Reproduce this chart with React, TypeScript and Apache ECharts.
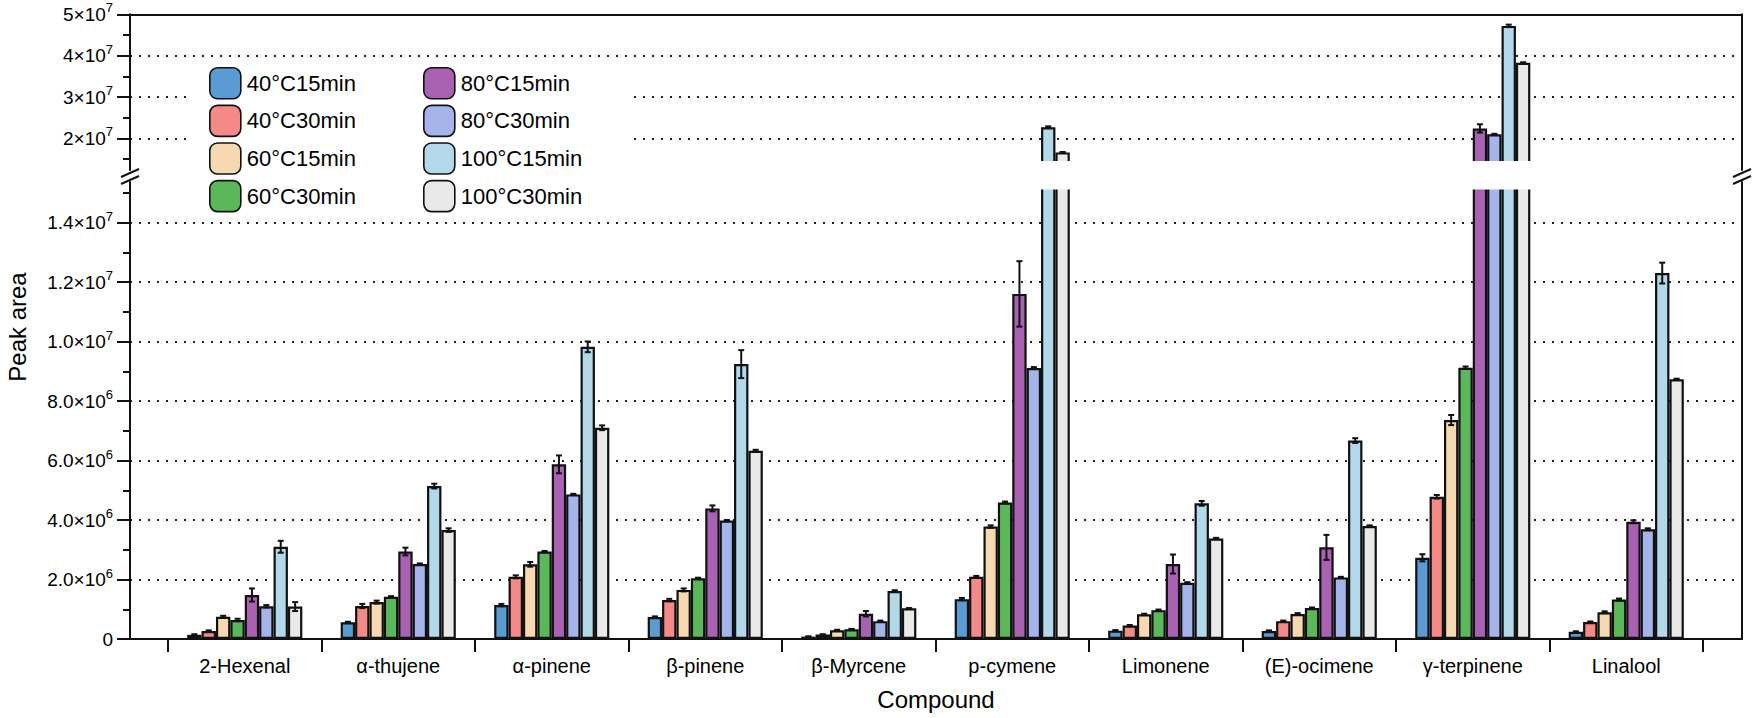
import React, { useEffect, useRef } from 'react';
import * as echarts from 'echarts';

const categories = ['2-Hexenal', 'α-thujene', 'α-pinene', 'β-pinene', 'β-Myrcene', 'p-cymene', 'Limonene', '(E)-ocimene', 'γ-terpinene', 'Linalool'];
const seriesNames = ['40°C15min', '40°C30min', '60°C15min', '60°C30min', '80°C15min', '80°C30min', '100°C15min', '100°C30min'];
const seriesColors = ['#5b9bd3', '#f38a88', '#f6d9b0', '#5bb85a', '#a862b1', '#a5b5ec', '#b2d8ea', '#e9e9e9'];

// peak areas
const v40C15 = [1.4e5, 5.6e5, 1.14e6, 7.4e5, 8e4, 1.34e6, 2.8e5, 2.7e5, 2.73e6, 2.4e5];
const v40C30 = [2.7e5, 1.11e6, 2.09e6, 1.31e6, 1.5e5, 2.09e6, 4.5e5, 6.0e5, 4.78e6, 5.7e5];
const v60C15 = [7.5e5, 1.24e6, 2.51e6, 1.65e6, 2.9e5, 3.78e6, 8.3e5, 8.4e5, 7.36e6, 9.0e5];
const v60C30 = [6.4e5, 1.42e6, 2.94e6, 2.04e6, 3.3e5, 4.59e6, 9.7e5, 1.04e6, 9.12e6, 1.33e6];
const v80C15 = [1.48e6, 2.94e6, 5.87e6, 4.39e6, 8.5e5, 1.16e7, 2.52e6, 3.08e6, 2.24e7, 3.94e6];
const v80C30 = [1.1e6, 2.52e6, 4.86e6, 3.98e6, 6.0e5, 9.11e6, 1.89e6, 2.07e6, 2.1e7, 3.69e6];
const v100C15 = [3.1e6, 5.14e6, 9.82e6, 9.24e6, 1.61e6, 2.27e7, 4.56e6, 6.67e6, 4.72e7, 1.23e7];
const v100C30 = [1.09e6, 3.66e6, 7.1e6, 6.33e6, 1.03e6, 1.66e7, 3.38e6, 3.8e6, 3.83e7, 8.73e6];

// standard deviations
const e40C15 = [2e4, 2e4, 4e4, 2e4, 1e4, 4e4, 2e4, 2e4, 1.2e5, 2e4];
const e40C30 = [2e4, 7e4, 5e4, 4e4, 1e4, 3e4, 2e4, 2e4, 6e4, 2e4];
const e60C15 = [3e4, 5e4, 8e4, 5e4, 2e4, 4e4, 2e4, 3e4, 1.7e5, 3e4];
const e60C30 = [4e4, 2e4, 2e4, 2e4, 1e4, 3e4, 2e4, 2e4, 4e4, 3e4];
const e80C15 = [2.2e5, 1.3e5, 3.0e5, 1.0e5, 9e4, 1.1e6, 3.2e5, 4.2e5, 1.0e6, 5e4];
const e80C30 = [4e4, 2e4, 2e4, 2e4, 2e4, 3e4, 2e4, 2e4, 1e5, 3e4];
const e100C15 = [2.0e5, 8e4, 1.8e5, 4.7e5, 3e4, 2e5, 8e4, 8e4, 3e5, 3.5e5];
const e100C30 = [1.5e5, 6e4, 8e4, 3e4, 1e4, 1e5, 2e4, 2e4, 1e5, 2e4];

const seriesValues = [v40C15, v40C30, v60C15, v60C30, v80C15, v80C30, v100C15, v100C30];
const seriesErrors = [e40C15, e40C30, e60C15, e60C30, e80C15, e80C30, e100C15, e100C30];

// tick labels
const lowerTickMantissas = ['0', '2.0', '4.0', '6.0', '8.0', '1.0', '1.2', '1.4'];
const lowerTickExponents = ['', '6', '6', '6', '6', '7', '7', '7'];
const upperTickMantissas = ['2', '3', '4', '5'];
const upperTickExponents = ['7', '7', '7', '7'];

const FONT = 'Liberation Sans, Arial, Helvetica, sans-serif';
const INK = '#111';

// layout (px)
const Y0 = 639; // y of value 0
const PX_PER_1E6 = 29.75;
const Y5E7 = 14.3;
const PX_PER_1E7 = 41.35;
const H = 718;
const lowerBarsTop = 188;
const upperBarsBottom = 163;
const lowerMax = ((Y0 - lowerBarsTop) / PX_PER_1E6) * 1e6;
const upperMin = 5e7 - ((upperBarsBottom - Y5E7) / PX_PER_1E7) * 1e7;

export default function App() {
  const ref = useRef<HTMLDivElement>(null);
  useEffect(() => {
    document.body.style.margin = '0';
    const chart = echarts.init(ref.current!, null, { renderer: 'svg' });

    const barCommon = (i: number) => ({
      type: 'bar',
      name: seriesNames[i],
      barGap: '0%',
      barCategoryGap: '25%',
      clip: true,
      itemStyle: { color: seriesColors[i], borderColor: INK, borderWidth: 2.2 },
      emphasis: { disabled: true },
      z: 2,
    });

    const lowerBars = seriesValues.map((vals, i) => ({
      ...barCommon(i),
      xAxisIndex: 0,
      yAxisIndex: 0,
      data: vals,
    }));
    const upperBars = seriesValues.map((vals, i) => ({
      ...barCommon(i),
      xAxisIndex: 1,
      yAxisIndex: 1,
      data: vals.map((v) => (v > upperMin ? v : '-')),
    }));

    const lowerErr: number[][] = [];
    const upperErr: number[][] = [];
    seriesValues.forEach((vals, si) => {
      vals.forEach((v, ci) => {
        const item = [ci, si, v, seriesErrors[si][ci]];
        if (v > 1.5e7) upperErr.push(item);
        else lowerErr.push(item);
      });
    });

    const renderErr = (params: any, api: any) => {
      const ci = api.value(0);
      const si = api.value(1);
      const v = api.value(2);
      const e = api.value(3);
      const band = api.size([1, 0])[0];
      const bw = (band * 0.75) / 8;
      const c = api.coord([ci, v]);
      const x = c[0] + (si - 3.5) * bw;
      const yt = api.coord([ci, v + e])[1];
      const yb = api.coord([ci, v - e])[1];
      const cap = 3;
      const st = { stroke: INK, lineWidth: 2 };
      return {
        type: 'group',
        children: [
          { type: 'line', shape: { x1: x, y1: yt, x2: x, y2: yb }, style: st },
          { type: 'line', shape: { x1: x - cap, y1: yt, x2: x + cap, y2: yt }, style: st },
          { type: 'line', shape: { x1: x - cap, y1: yb, x2: x + cap, y2: yb }, style: st },
        ],
      };
    };

    const errSeries = [
      {
        type: 'custom',
        name: 'err-lower',
        xAxisIndex: 0,
        yAxisIndex: 0,
        renderItem: renderErr,
        data: lowerErr,
        encode: { x: 0, y: 2 },
        z: 3,
        silent: true,
      },
      {
        type: 'custom',
        name: 'err-upper',
        xAxisIndex: 1,
        yAxisIndex: 1,
        renderItem: renderErr,
        data: upperErr,
        encode: { x: 0, y: 2 },
        z: 3,
        silent: true,
      },
    ];

    const hiddenX = (gi: number) => ({ type: 'value', gridIndex: gi, min: 0, max: 1, show: false });
    const frameLine = { show: true, onZero: false, lineStyle: { color: INK, width: 2 } };
    const dotted = { show: true, lineStyle: { color: '#222', width: 1.8, type: [2, 7] } };
    const richLabel = {
      b: { fontSize: 19, fontFamily: FONT, color: '#000', lineHeight: 26 },
      s: { fontSize: 13, fontFamily: FONT, color: '#000', verticalAlign: 'top' },
    };
    const legendCommon = {
      orient: 'vertical',
      top: 67,
      padding: 0,
      itemWidth: 31,
      itemHeight: 31,
      itemGap: 5,
      icon: 'roundRect',
      selectedMode: false,
      itemStyle: { borderColor: INK, borderWidth: 1.6 },
      textStyle: { fontSize: 22, color: '#000', fontFamily: FONT, padding: [0, 0, 0, 1] },
      z: 6,
    };

    const option: any = {
      animation: false,
      backgroundColor: '#fff',
      textStyle: { fontFamily: FONT },
      grid: [
        { left: 168, right: 54, top: lowerBarsTop, bottom: H - Y0 }, // 0 lower bars
        { left: 168, right: 54, top: Y5E7, bottom: H - upperBarsBottom }, // 1 upper bars
        { left: 130, right: 15, top: 182, bottom: H - Y0 }, // 2 lower frame
        { left: 130, right: 15, top: Y5E7, bottom: H - 170 }, // 3 upper frame
        { left: 130, right: 15, top: Y0 - 14 * PX_PER_1E6, bottom: H - Y0 }, // 4 lower major
        { left: 130, right: 15, top: Y0 - 15 * PX_PER_1E6, bottom: H - Y0 }, // 5 lower minor
        { left: 130, right: 15, top: Y5E7, bottom: H - (Y5E7 + 3 * PX_PER_1E7) }, // 6 upper major
        { left: 130, right: 15, top: Y5E7, bottom: H - (Y5E7 + 3.5 * PX_PER_1E7) }, // 7 upper minor
      ],
      xAxis: [
        {
          type: 'category',
          gridIndex: 0,
          data: categories,
          axisLine: { show: false },
          axisTick: { show: true, length: 13, lineStyle: { color: INK, width: 2 } },
          axisLabel: { interval: 0, fontSize: 20, margin: 17, color: '#000', fontFamily: FONT },
          splitLine: { show: false },
        },
        { type: 'category', gridIndex: 1, data: categories, show: false },
        {
          type: 'value',
          gridIndex: 2,
          min: 0,
          max: 1,
          axisLine: frameLine,
          axisTick: { show: false },
          axisLabel: { show: false },
          splitLine: { show: false },
          name: 'Compound',
          nameLocation: 'middle',
          nameGap: 48,
          nameTextStyle: { fontSize: 24, color: '#000', fontFamily: FONT },
        },
        {
          type: 'value',
          gridIndex: 3,
          position: 'top',
          min: 0,
          max: 1,
          axisLine: frameLine,
          axisTick: { show: false },
          axisLabel: { show: false },
          splitLine: { show: false },
        },
        hiddenX(4),
        hiddenX(5),
        hiddenX(6),
        hiddenX(7),
      ],
      yAxis: [
        { type: 'value', gridIndex: 0, min: 0, max: lowerMax, show: false },
        { type: 'value', gridIndex: 1, min: upperMin, max: 5e7, show: false },
        {
          type: 'value', gridIndex: 2, min: 0, max: 1, position: 'left',
          axisLine: frameLine, axisTick: { show: false }, axisLabel: { show: false }, splitLine: { show: false },
        },
        {
          type: 'value', gridIndex: 2, min: 0, max: 1, position: 'right',
          axisLine: frameLine, axisTick: { show: false }, axisLabel: { show: false }, splitLine: { show: false },
        },
        {
          type: 'value', gridIndex: 3, min: 0, max: 1, position: 'left',
          axisLine: frameLine, axisTick: { show: false }, axisLabel: { show: false }, splitLine: { show: false },
        },
        {
          type: 'value', gridIndex: 3, min: 0, max: 1, position: 'right',
          axisLine: frameLine, axisTick: { show: false }, axisLabel: { show: false }, splitLine: { show: false },
        },
        {
          type: 'value', gridIndex: 4, min: 0, max: 1.4e7, interval: 2e6,
          axisLine: { show: false, onZero: false },
          axisTick: { show: true, length: 13, lineStyle: { color: INK, width: 2 } },
          axisLabel: {
            margin: 17,
            formatter: (v: number) => {
              const k = Math.round(v / 2e6);
              if (k === 0) return '{b|0}';
              return `{b|${lowerTickMantissas[k]}×10}{s|${lowerTickExponents[k]}}`;
            },
            rich: richLabel,
          },
          splitLine: dotted,
        },
        {
          type: 'value', gridIndex: 5, min: 0, max: 1.5e7, interval: 1e6,
          axisLine: { show: false, onZero: false },
          axisTick: { show: true, length: 7, lineStyle: { color: INK, width: 2 } },
          axisLabel: { show: false },
          splitLine: { show: false },
        },
        {
          type: 'value', gridIndex: 6, min: 2e7, max: 5e7, interval: 1e7,
          axisLine: { show: false, onZero: false },
          axisTick: { show: true, length: 13, lineStyle: { color: INK, width: 2 } },
          axisLabel: {
            margin: 17,
            formatter: (v: number) => {
              const k = Math.round(v / 1e7) - 2;
              return `{b|${upperTickMantissas[k]}×10}{s|${upperTickExponents[k]}}`;
            },
            rich: richLabel,
          },
          splitLine: dotted,
        },
        {
          type: 'value', gridIndex: 7, min: 1.5e7, max: 5e7, interval: 5e6,
          axisLine: { show: false, onZero: false },
          axisTick: { show: true, length: 7, lineStyle: { color: INK, width: 2 } },
          axisLabel: { show: false },
          splitLine: { show: false },
        },
      ],
      legend: [
        { ...legendCommon, data: seriesNames.slice(0, 4), left: 209 },
        { ...legendCommon, data: seriesNames.slice(4), left: 423 },
      ],
      graphic: [
        { type: 'rect', z: 4, shape: { x: 190, y: 60, width: 437, height: 156 }, style: { fill: '#fff' } },
        { type: 'rect', z: 5, shape: { x: 140, y: 161, width: 1595, height: 28.5 }, style: { fill: '#fff' } },
        { type: 'line', z: 7, shape: { x1: 121, y1: 177, x2: 139, y2: 169 }, style: { stroke: INK, lineWidth: 2 } },
        { type: 'line', z: 7, shape: { x1: 121, y1: 184, x2: 139, y2: 176 }, style: { stroke: INK, lineWidth: 2 } },
        { type: 'line', z: 7, shape: { x1: 1733, y1: 177, x2: 1751, y2: 169 }, style: { stroke: INK, lineWidth: 2 } },
        { type: 'line', z: 7, shape: { x1: 1733, y1: 184, x2: 1751, y2: 176 }, style: { stroke: INK, lineWidth: 2 } },
        {
          type: 'text',
          z: 7,
          x: 17,
          y: 327,
          rotation: Math.PI / 2,
          style: { text: 'Peak area', fontSize: 24, fontFamily: FONT, fill: '#000', align: 'center', verticalAlign: 'middle' },
        },
      ],
      series: [...lowerBars, ...upperBars, ...errSeries],
    };

    chart.setOption(option);
    return () => chart.dispose();
  }, []);

  return <div ref={ref} style={{ width: 1757, height: 718 }} />;
}
